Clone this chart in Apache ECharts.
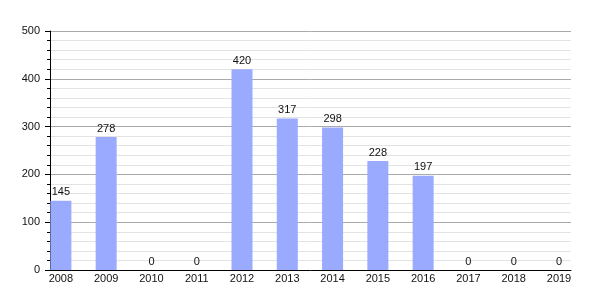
<!DOCTYPE html>
<html><head><meta charset="utf-8">
<script src="https://cdn.jsdelivr.net/npm/echarts@6/dist/echarts.min.js"></script>
<style>html,body{margin:0;padding:0;background:#fff}#c{width:600px;height:300px}</style>
</head><body><div id="c"></div>
<script>
const years = [2008, 2009, 2010, 2011, 2012, 2013, 2014, 2015, 2016, 2017, 2018, 2019];
const counts = [145, 278, 0, 0, 420, 317, 298, 228, 197, 0, 0, 0];
const yTicks = [0, 100, 200, 300, 400, 500];

const chart = echarts.init(document.getElementById('c'), null, {renderer: 'canvas'});
const font = 'Liberation Sans, Arial, sans-serif';
chart.setOption({
  animation: false,
  grid: {left: 50, right: 29, top: 31, bottom: 30},
  xAxis: {
    type: 'value',
    min: 2007.76, max: 2019.265,
    axisLine: {show: true, onZero: false, lineStyle: {color: '#000', width: 1}},
    axisTick: {show: false, customValues: years},
    splitLine: {show: false},
    axisLabel: {customValues: years, color: '#111', fontSize: 11, fontFamily: font, margin: 3,
      formatter: v => String(Math.round(v))}
  },
  yAxis: {
    type: 'value', min: yTicks[0], max: yTicks[yTicks.length - 1], interval: 100,
    axisLine: {show: true, lineStyle: {color: '#000', width: 1}},
    axisTick: {show: true, length: 5, lineStyle: {color: '#000'}},
    minorTick: {show: true, splitNumber: 5, length: 3, lineStyle: {color: '#000'}},
    splitLine: {show: true, lineStyle: {color: '#aaa', width: 1}},
    minorSplitLine: {show: true, lineStyle: {color: '#e3e3e3', width: 1}},
    axisLabel: {color: '#111', fontSize: 11, fontFamily: font, margin: 10}
  },
  series: [{
    type: 'bar',
    barWidth: 21,
    data: years.map((y, i) => [y, counts[i]]),
    itemStyle: {color: '#99aaff'},
    label: {show: true, position: 'top', distance: 3, color: '#111', fontSize: 11, fontFamily: font,
      formatter: p => String(p.value[1])}
  }]
});
</script></body></html>
